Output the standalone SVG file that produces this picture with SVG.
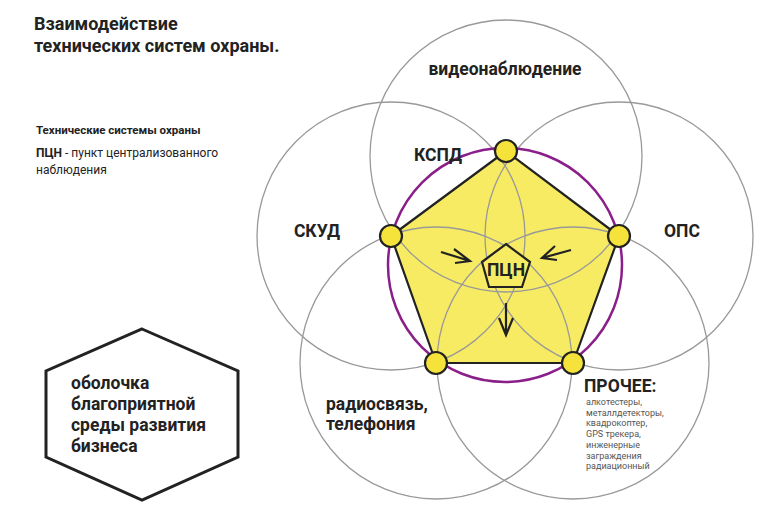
<svg xmlns="http://www.w3.org/2000/svg" width="774" height="520" viewBox="0 0 774 520">
<style>
text{font-family:Roboto,"Noto Sans",sans-serif;fill:#222}
.b{font-weight:bold}
.lbl{font-size:17.5px;font-weight:bold}
.g{fill:none;stroke:#999;stroke-width:1.3}
.dot{fill:#f5e33c;stroke:#222;stroke-width:2.2}
.arr{fill:none;stroke:#222;stroke-width:2.2}
.s{font-size:9px;fill:#555}
</style>
<rect width="774" height="520" fill="#fff"/>
<g id="title">
<text x="34" y="30" class="b" font-size="18">Взаимодействие</text>
<text x="34" y="52" class="b" font-size="18">технических систем охраны.</text>
</g>
<g id="legend">
<text x="36" y="134" class="b" font-size="11.5">Технические системы охраны</text>
<text x="36" y="157" font-size="12" fill="#777"><tspan class="b" fill="#222">ПЦН</tspan> - пункт централизованного</text>
<text x="36" y="174" font-size="12" fill="#777">наблюдения</text>
</g>
<g id="center-fill"><polygon points="506,151 619,236 573,363 436,363 391,236" fill="#f7eb63"/></g>
<g id="circles">
<circle class="g" cx="506" cy="156" r="136"/>
<circle class="g" cx="619" cy="236" r="134"/>
<circle class="g" cx="391" cy="236" r="134"/>
<circle class="g" cx="436" cy="363" r="136"/>
<circle class="g" cx="573" cy="363" r="136"/>
</g>
<g id="ring"><circle cx="505" cy="265" r="117" fill="none" stroke="#8a1f8a" stroke-width="2.5"/></g>
<g id="pentagon"><polygon points="506,151 619,236 573,363 436,363 391,236" fill="none" stroke="#222" stroke-width="2.2" stroke-linejoin="round"/></g>
<g id="pcn">
<polygon points="506,244 530,262 522,287 489,287 482,262" fill="#f7eb63" stroke="#222" stroke-width="2.2"/>
<text x="506" y="276" class="lbl" text-anchor="middle" font-size="16">ПЦН</text>
</g>
<g id="connectors">
<path class="arr" d="M441,252 L470,261 M454,249 L470,261 L455,263"/>
<path class="arr" d="M571,250 L542,258 M555,246 L542,258 L557,260"/>
<path class="arr" d="M506,303 L506,335 M499,318 L506,335 L513,318"/>
</g>
<g id="nodes">
<circle class="dot" cx="506" cy="151" r="11"/>
<circle class="dot" cx="619" cy="236" r="11"/>
<circle class="dot" cx="573" cy="363" r="11"/>
<circle class="dot" cx="436" cy="363" r="11"/>
<circle class="dot" cx="391" cy="236" r="11"/>
</g>
<g id="labels">
<text x="505" y="75" class="lbl" text-anchor="middle">видеонаблюдение</text>
<text x="438" y="161" class="lbl" text-anchor="middle">КСПД</text>
<text x="317" y="237" class="lbl" text-anchor="middle">СКУД</text>
<text x="682" y="237" class="lbl" text-anchor="middle">ОПС</text>
<text x="326" y="410" class="lbl">радиосвязь,</text>
<text x="326" y="430" class="lbl">телефония</text>
<text x="584" y="392" class="lbl" font-size="18">ПРОЧЕЕ:</text>
<text x="586" y="405" class="s">алкотестеры,</text>
<text x="586" y="415.7" class="s">металлдетекторы,</text>
<text x="586" y="426.4" class="s">квадрокоптер,</text>
<text x="586" y="437.1" class="s">GPS трекера,</text>
<text x="586" y="447.8" class="s">инженерные</text>
<text x="586" y="458.5" class="s">заграждения</text>
<text x="586" y="469.2" class="s">радиационный</text>
</g>
<g id="hexagon">
<polygon points="142,329 238,371 238,457 142,500 46,457 46,371" fill="none" stroke="#222" stroke-width="3"/>
<text x="71" y="389" class="lbl">оболочка</text>
<text x="71" y="410" class="lbl">благоприятной</text>
<text x="71" y="431" class="lbl">среды развития</text>
<text x="71" y="452" class="lbl">бизнеса</text>
</g>
</svg>
